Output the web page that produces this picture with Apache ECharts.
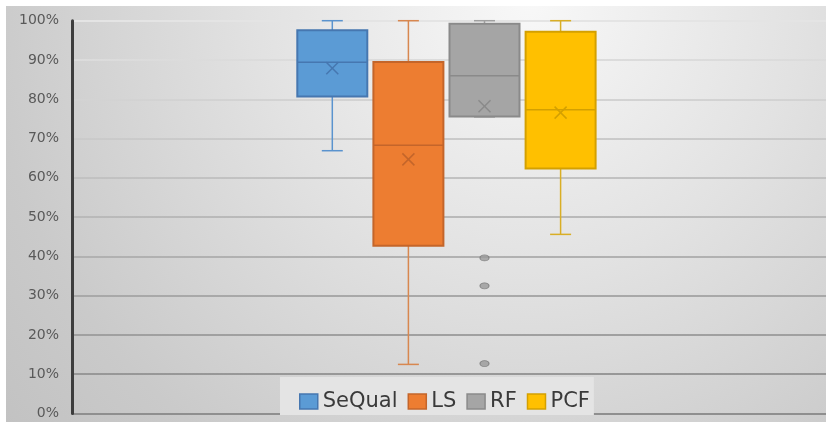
<!DOCTYPE html>
<html>
<head>
<meta charset="utf-8">
<script src="https://cdn.jsdelivr.net/npm/echarts@6/dist/echarts.min.js"></script>
<style>
html,body{margin:0;padding:0;background:#fff;}
#chart{width:826px;height:423px;}
</style>
</head>
<body>
<div id="chart"></div>
<script>
// ---- data ----
const categories = ['SeQual', 'LS', 'RF', 'PCF'];
const mins    = [66.9, 12.5, 75.5, 45.6];
const q1s     = [80.7, 42.7, 75.6, 62.4];
const medians = [89.4, 68.3, 86.0, 77.3];
const q3s     = [97.6, 89.5, 99.2, 97.2];
const maxs    = [100, 100, 100, 100];
const means   = [87.9, 64.7, 78.2, 76.6];
const rfOutliers = [39.6, 32.5, 12.7];
const yTickValues = [0, 10, 20, 30, 40, 50, 60, 70, 80, 90, 100];

// ---- styles ----
const fills   = ['#5B9BD5', '#ED7D31', '#A5A5A5', '#FFC000'];
const borders = ['#4677B0', '#C4652A', '#8A8A8A', '#D4A000'];
const whiskerColors = ['#5A93CE', '#D8874F', '#A0A0A0', '#D9AE25'];
const BOX_W = 70, CAP_W = 21, MEAN_R = 6;

const chart = echarts.init(document.getElementById('chart'));

function makeRender(idx) {
  return function (params, api) {
    const x = api.value(0);
    const pMax = api.coord([x, api.value(5)]);
    const pQ3 = api.coord([x, api.value(4)]);
    const pMed = api.coord([x, api.value(3)]);
    const pQ1 = api.coord([x, api.value(2)]);
    const pMin = api.coord([x, api.value(1)]);
    const pMean = api.coord([x, api.value(6)]);
    const cx = pMed[0];
    const wStyle = { stroke: whiskerColors[idx], lineWidth: 1.5 };
    const bStyle = { stroke: borders[idx], lineWidth: 1.5 };
    return {
      type: 'group',
      children: [
        { type: 'line', shape: { x1: cx, y1: pQ3[1], x2: cx, y2: pMax[1] }, style: wStyle },
        { type: 'line', shape: { x1: cx - CAP_W / 2, y1: pMax[1], x2: cx + CAP_W / 2, y2: pMax[1] }, style: wStyle },
        { type: 'line', shape: { x1: cx, y1: pQ1[1], x2: cx, y2: pMin[1] }, style: wStyle },
        { type: 'line', shape: { x1: cx - CAP_W / 2, y1: pMin[1], x2: cx + CAP_W / 2, y2: pMin[1] }, style: wStyle },
        { type: 'rect', shape: { x: cx - BOX_W / 2, y: pQ3[1], width: BOX_W, height: pQ1[1] - pQ3[1] },
          style: { fill: fills[idx], stroke: borders[idx], lineWidth: 2 } },
        { type: 'line', shape: { x1: cx - BOX_W / 2, y1: pMed[1], x2: cx + BOX_W / 2, y2: pMed[1] }, style: bStyle },
        { type: 'line', shape: { x1: cx - MEAN_R, y1: pMean[1] - MEAN_R, x2: cx + MEAN_R, y2: pMean[1] + MEAN_R }, style: bStyle },
        { type: 'line', shape: { x1: cx - MEAN_R, y1: pMean[1] + MEAN_R, x2: cx + MEAN_R, y2: pMean[1] - MEAN_R }, style: bStyle }
      ]
    };
  };
}

const boxSeries = categories.map(function (name, i) {
  return {
    name: name,
    type: 'custom',
    xAxisIndex: 1,
    yAxisIndex: 1,
    itemStyle: { color: fills[i], borderColor: borders[i] },
    renderItem: makeRender(i),
    encode: { x: 0, y: [1, 2, 3, 4, 5] },
    data: [[i, mins[i], q1s[i], medians[i], q3s[i], maxs[i], means[i]]],
    z: 3
  };
});

const gridTop = 20.7, gridBottom = 9.5;

const option = {
  animation: false,
  backgroundColor: {
    type: 'radial', x: 0.64, y: 0, r: 1.6,
    colorStops: [
      { offset: 0, color: '#f8f8f8' },
      { offset: 0.4, color: '#e2e2e2' },
      { offset: 0.8, color: '#cacaca' },
      { offset: 1, color: '#c2c2c2' }
    ]
  },
  graphic: [
    { type: 'rect', shape: { x: 0, y: 0, width: 826, height: 6 }, style: { fill: '#ffffff' }, z: 100, silent: true },
    { type: 'rect', shape: { x: 0, y: 0, width: 6, height: 423 }, style: { fill: '#ffffff' }, z: 100, silent: true },
    { type: 'rect', shape: { x: 0, y: 422, width: 826, height: 1 }, style: { fill: '#ffffff' }, z: 100, silent: true }
  ],
  grid: [
    { left: 72, right: 0, top: gridTop, bottom: gridBottom },
    { left: 294.25, width: 304.4, top: gridTop, bottom: gridBottom }
  ],
  xAxis: [
    { type: 'value', gridIndex: 0, min: 0, max: 1, show: true,
      axisLine: { show: false }, axisTick: { show: false }, axisLabel: { show: false }, splitLine: { show: false } },
    { type: 'category', gridIndex: 1, data: categories, show: false, boundaryGap: true }
  ],
  yAxis: [
    { type: 'value', gridIndex: 0, min: 0, max: 100, interval: 10,
      axisLine: { show: true, lineStyle: { color: '#3d3d3d', width: 3 } },
      axisTick: { show: false },
      axisLabel: { formatter: function (v) { return yTickValues.indexOf(v) >= 0 ? v + '%' : ''; },
        color: '#595959', fontSize: 14, fontFamily: 'DejaVu Sans', margin: 13 },
      splitLine: { show: true, lineStyle: { width: 2, color: {
        type: 'linear', x: 0, y: gridTop, x2: 0, y2: 423 - gridBottom, global: true,
        colorStops: [ { offset: 0, color: '#e4e4e4' }, { offset: 1, color: '#8f8f8f' } ] } } }
    },
    { type: 'value', gridIndex: 1, min: 0, max: 100, show: false, splitLine: { show: false } }
  ],
  legend: {
    left: 280, top: 377,
    padding: [14, 4, 3, 19],
    backgroundColor: '#e4e4e4',
    itemGap: 10, itemWidth: 18, itemHeight: 15,
    icon: 'rect',
    data: categories.map(function (n, i) {
      return { name: n, itemStyle: { color: fills[i], borderColor: borders[i], borderWidth: 1.5 } };
    }),
    textStyle: { fontSize: 21, fontFamily: 'DejaVu Sans', color: '#3a3a3a' },
    selectedMode: false
  },
  series: boxSeries.concat([{
    name: 'RF outliers',
    type: 'scatter',
    xAxisIndex: 1, yAxisIndex: 1,
    symbol: 'circle', symbolSize: [9, 6],
    itemStyle: { color: '#9a9a9a', borderColor: '#7a7a7a', borderWidth: 1 },
    data: rfOutliers.map(function (v) { return ['RF', v]; }),
    z: 4
  }])
};
chart.setOption(option);
</script>
</body>
</html>
